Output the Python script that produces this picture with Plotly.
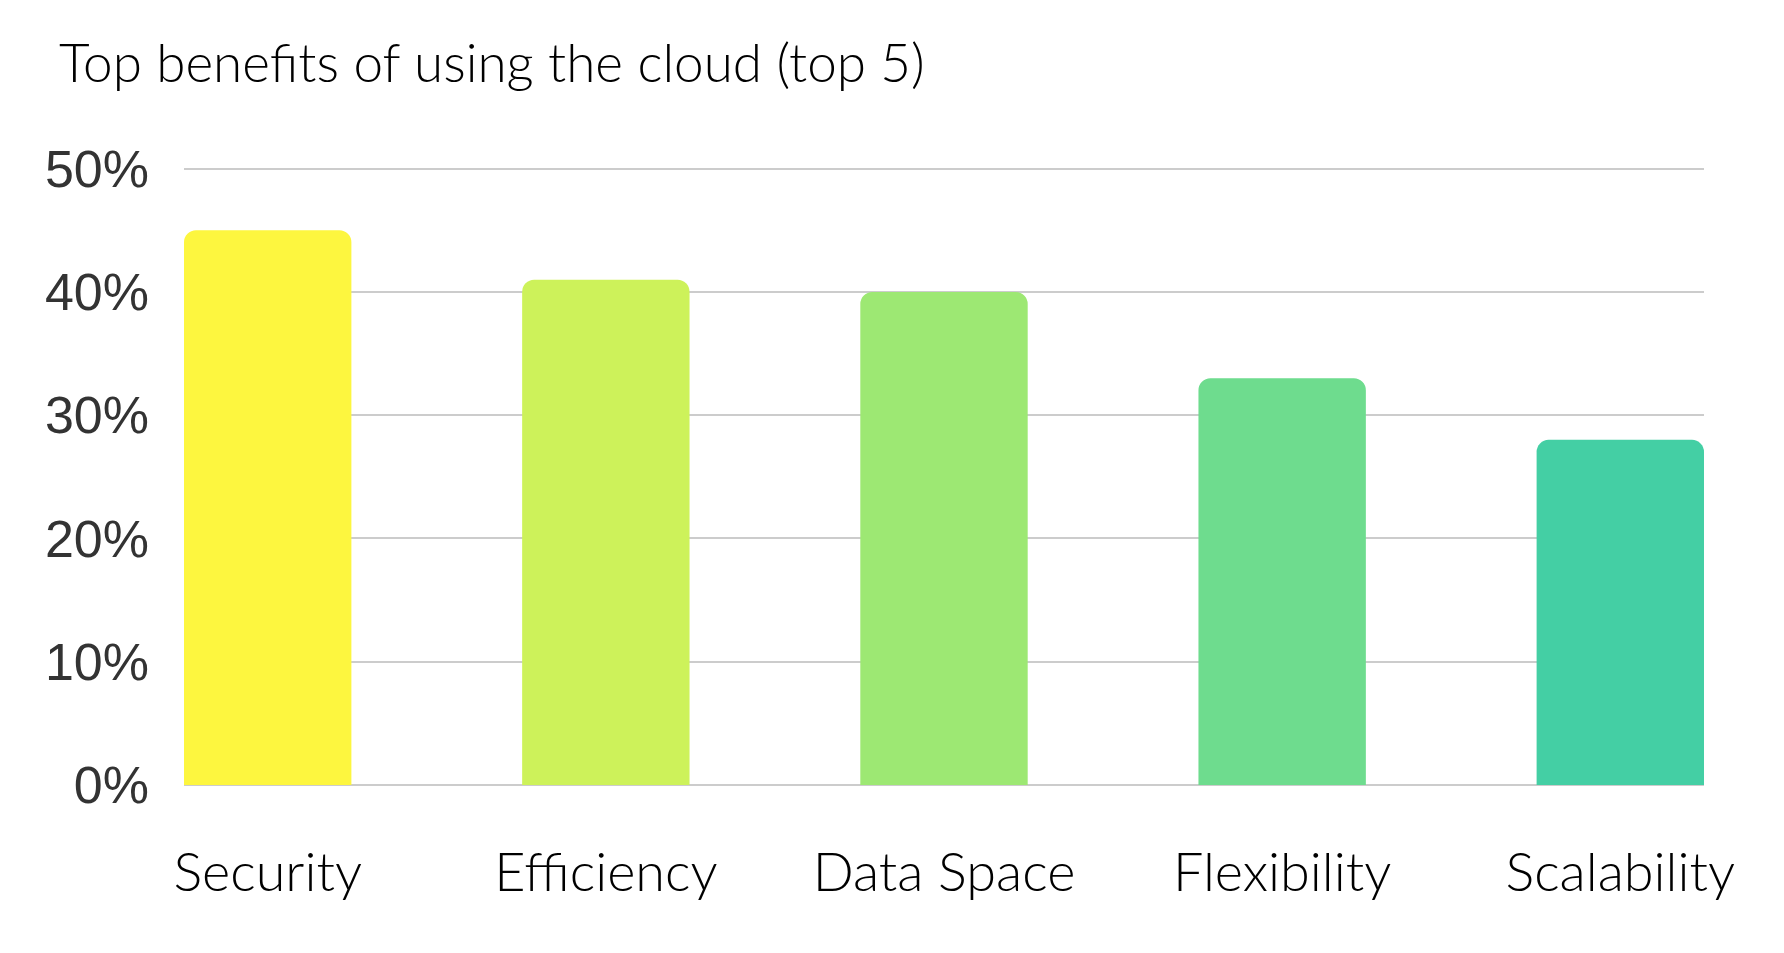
import plotly.graph_objects as go

categories = ["Security", "Efficiency", "Data Space", "Flexibility", "Scalability"]
values = [45, 41, 40, 33, 28]
colors = ["#FDF63F", "#CDF25A", "#9DE873", "#6EDC8E", "#44CFA4"]
tick_vals = [0, 10, 20, 30, 40, 50]
tick_text = ["0%", "10%", "20%", "30%", "40%", "50%"]
title_text = "Top benefits of using the cloud (top 5)"

label_font = dict(family="Lato", size=54, color="#000000", weight=300)

fig = go.Figure(go.Bar(
    x=list(range(len(categories))),
    y=values,
    width=0.495,
    marker=dict(color=colors, line=dict(width=0), cornerradius=12),
    hoverinfo="skip",
))

fig.update_layout(
    width=1784, height=953,
    margin=dict(l=176, r=88, t=157, b=176),
    paper_bgcolor="white", plot_bgcolor="white",
    showlegend=False,
    title=dict(text=title_text, x=51/1784, xanchor="left", y=1-55/953, yanchor="middle",
               font=dict(family="Lato", size=53, color="#000000", weight=300)),
    xaxis=dict(
        range=[-0.2475, 4.2475],
        tickmode="array", tickvals=list(range(len(categories))), ticktext=categories,
        showgrid=False, zeroline=False, showline=False, ticks="",
        tickfont=label_font, ticklabelstandoff=51,
    ),
    yaxis=dict(
        range=[0, 50.3],
        tickmode="array", tickvals=tick_vals, ticktext=tick_text,
        showgrid=True, gridcolor="#CCCCCC", gridwidth=2,
        zeroline=True, zerolinecolor="#CCCCCC", zerolinewidth=2,
        showline=False, ticks="",
        tickfont=dict(family="Liberation Sans", size=52, color="#333333"),
        ticklabelstandoff=34,
    ),
)

fig.write_html("out.html")
